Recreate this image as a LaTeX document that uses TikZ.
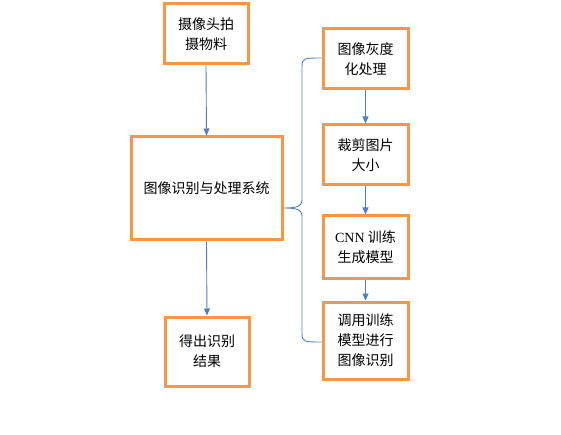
\documentclass[tikz,border=0pt]{standalone}
\usepackage{fontspec}
\setmainfont{Noto Sans CJK SC}
\newfontfamily\latinserif{Liberation Serif}
\usetikzlibrary{arrows.meta}
\definecolor{boxorange}{HTML}{F79646}
\definecolor{lineblue}{HTML}{4F81BD}
\begin{document}
\begin{tikzpicture}[x=1pt,y=-1pt,
  box/.style={draw=boxorange, line width=3pt, fill=white, align=center,
    font=\fontsize{14}{20}\selectfont, inner sep=0pt},
  conn/.style={draw=lineblue, line width=0.9pt, -{Triangle[length=7pt,width=6pt]}},
  bracel/.style={draw=lineblue, line width=0.9pt}]
\useasboundingbox (0,0) rectangle (561,435);
\node[box, minimum width=84pt, minimum height=60pt] (b1) at (206,34) {摄像头拍\\摄物料};
\node[box, minimum width=151pt, minimum height=103pt] (b2) at (206.5,188.5) {图像识别与处理系统};
\node[box, minimum width=84pt, minimum height=69pt] (b3) at (207,351.5) {得出识别\\结果};
\node[box, minimum width=85pt, minimum height=60pt] (r1) at (365.5,59) {图像灰度\\化处理};
\node[box, minimum width=85pt, minimum height=60pt] (r2) at (365.5,155) {裁剪图片\\大小};
\node[box, minimum width=85pt, minimum height=62pt] (r3) at (365.5,247) {{\latinserif CNN} 训练\\生成模型};
\node[box, minimum width=85pt, minimum height=77pt] (r4) at (365.5,340.5) {调用训练\\模型进行\\图像识别};
\draw[conn] (b1.south) -- (b2.north);
\draw[conn] (b2.south) -- (b3.north);
\draw[conn] (r1.south) -- (r2.north);
\draw[conn] (r2.south) -- (r3.north);
\draw[conn] (r3.south) -- (r4.north);
\coordinate (tip) at (b2.east |- 0,208);
\coordinate (top) at (r1.west |- 0,58);
\coordinate (bot) at (r4.west |- 0,342);
\draw[bracel] (top) .. controls (305,58) and (302,58) .. (302,66)
  -- (302,200) .. controls (302,207) and (295,208) .. (tip)
  .. controls (295,208) and (302,209) .. (302,216)
  -- (302,334) .. controls (302,342) and (305,342) .. (bot);
\end{tikzpicture}
\end{document}
